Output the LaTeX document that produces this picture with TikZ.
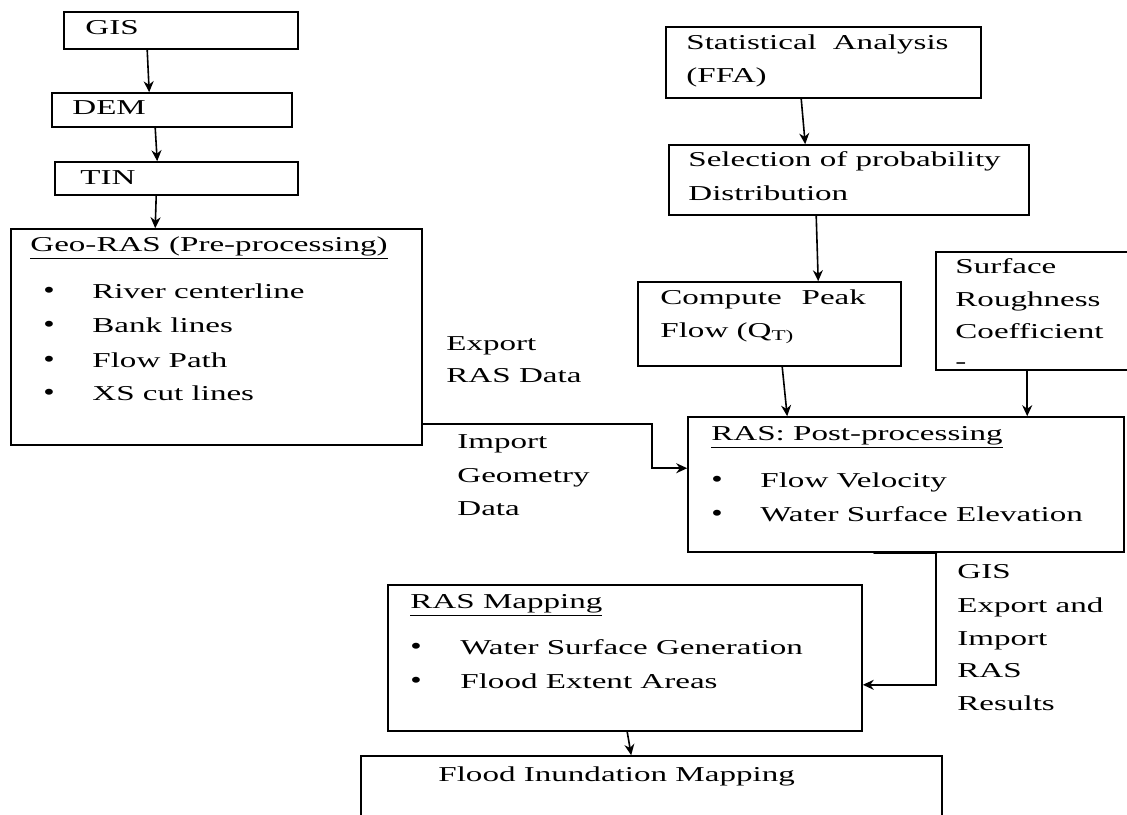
\documentclass[tikz,border=0pt]{standalone}
\usepackage{fontspec}
\setmainfont{Liberation Serif}[FakeStretch=1.56]
\newfontfamily\dotfont{Liberation Serif}[FakeStretch=1.3]
\usetikzlibrary{arrows.meta,fit}
\tikzset{>={Stealth[length=5.5pt,width=5pt]}}

\begin{document}
\begin{tikzpicture}[x=0.5pt,y=-0.5pt,line cap=round,
  box/.style={draw,line width=0.8pt,inner sep=0pt},
  txt/.style={anchor=base west,inner sep=0pt,font=\fontsize{10.6}{13}\selectfont},
  dot/.style={anchor=base west,inner sep=0pt,font=\dotfont\fontsize{12.5}{13}\selectfont},
  flow/.style={->,line width=0.8pt}]

  \useasboundingbox (0,0) rectangle (1127,814);

  % left column
  \node [box,fit={(64,12) (298,49)}] (gis) {};
  \node [box,fit={(52,93) (292,127)}] (dem) {};
  \node [box,fit={(55,162) (298,195)}] (tin) {};
  \node [box,fit={(11,229) (422,445)}] (georas) {};

  \node [txt] (gistxt) at (85,34) {GIS};
  \node [txt] (demtxt) at (72,114) {DEM};
  \node [txt] (tintxt) at (80,184) {TIN};
  \node [txt] (geotitle) at (30,251) {\underline{Geo-RAS (Pre-processing)}};
  \foreach \y/\t [count=\i] in {298/River centerline,332/Bank lines,367/Flow Path,400/XS cut lines}{
    \node [dot] (geob\i) at (43,\y) {\textbullet};
    \node [txt] (geoi\i) at (92,\y) {\t};
  }

  \draw [flow] ([xshift=42pt]gis.south west) -- ([xshift=49pt]dem.north west);
  \draw [flow] ([xshift=52pt]dem.south west) -- ([xshift=51.5pt]tin.north west);
  \draw [flow] ([xshift=51pt]tin.south west) -- ([xshift=72.5pt]georas.north west);

  % right column
  \node [box,fit={(666,27) (981,98)}] (stat) {};
  \node [box,fit={(669,145) (1029,215)}] (select) {};
  \node [box,fit={(638,282) (901,366)}] (peak) {};
  \node [box,fit={(936,252) (1140,370)}] (rough) {};
  \node [box,fit={(688,417) (1124,552)}] (raspost) {};

  \node [txt] (stat1) at (686,49) {Statistical\hspace{8pt}Analysis};
  \node [txt] (stat2) at (686,82) {(FFA)};
  \node [txt] (select1) at (688,166) {Selection of probability};
  \node [txt] (select2) at (688,200) {Distribution};
  \node [txt] (peak1) at (660,304) {Compute\hspace{10pt}Peak};
  \node [txt] (peak2) at (660,337) {Flow (Q\textsubscript{T)}};
  \node [txt] (rough1) at (955,273) {Surface};
  \node [txt] (rough2) at (955,306) {Roughness};
  \node [txt] (rough3) at (955,338) {Coefficient};
  \node [txt] (rough4) at (955,368) {-};
  \node [txt] (posttitle) at (711,440) {\underline{RAS: Post-processing}};
  \node [dot] (postb1) at (711,487) {\textbullet};
  \node [txt] (posti1) at (760,487) {Flow Velocity};
  \node [dot] (postb2) at (711,521) {\textbullet};
  \node [txt] (posti2) at (760,521) {Water Surface Elevation};

  \draw [flow] ([xshift=68pt]stat.south west) -- ([xshift=68.5pt]select.north west);
  \draw [flow] ([xshift=74pt]select.south west) -- ([xshift=90.5pt]peak.north west);
  \draw [flow] ([xshift=72.5pt]peak.south west) -- ([xshift=50pt]raspost.north west);
  \draw [flow] ([xshift=46pt]rough.south west) -- ([xshift=170pt]raspost.north west);

  % geometry link
  \node [txt] (export1) at (446,350) {Export};
  \node [txt] (export2) at (446,382) {RAS Data};
  \node [txt] (import1) at (457,448) {Import};
  \node [txt] (import2) at (457,482) {Geometry};
  \node [txt] (import3) at (457,515) {Data};
  \draw [flow] ([yshift=11pt]georas.south east) -- ++(229,0) |- ([yshift=-26pt]raspost.north west);

  % mapping
  \node [box,fit={(388,585) (862,731)}] (rasmap) {};
  \node [box,fit={(361,756) (942,830)}] (flood) {};

  \node [txt] (maptitle) at (410,608) {\underline{RAS Mapping}};
  \node [dot] (mapb1) at (410,654) {\textbullet};
  \node [txt] (mapi1) at (460,654) {Water Surface Generation};
  \node [dot] (mapb2) at (410,688) {\textbullet};
  \node [txt] (mapi2) at (460,688) {Flood Extent Areas};
  \node [txt] (floodtxt) at (438,781) {Flood Inundation Mapping};

  \node [txt] (res1) at (957,578) {GIS};
  \node [txt] (res2) at (957,612) {Export and};
  \node [txt] (res3) at (957,645) {Import};
  \node [txt] (res4) at (957,677) {RAS};
  \node [txt] (res5) at (957,710) {Results};

  \draw [line width=1.6pt] ([xshift=93.5pt]raspost.south west) -- ([xshift=124.5pt]raspost.south west);
  \draw [flow] ([xshift=124.5pt]raspost.south west) |- ([yshift=23.5pt]rasmap.south east);
  \draw [flow] ([xshift=120pt]rasmap.south west) -- ([xshift=135.5pt]flood.north west);

\end{tikzpicture}
\end{document}
